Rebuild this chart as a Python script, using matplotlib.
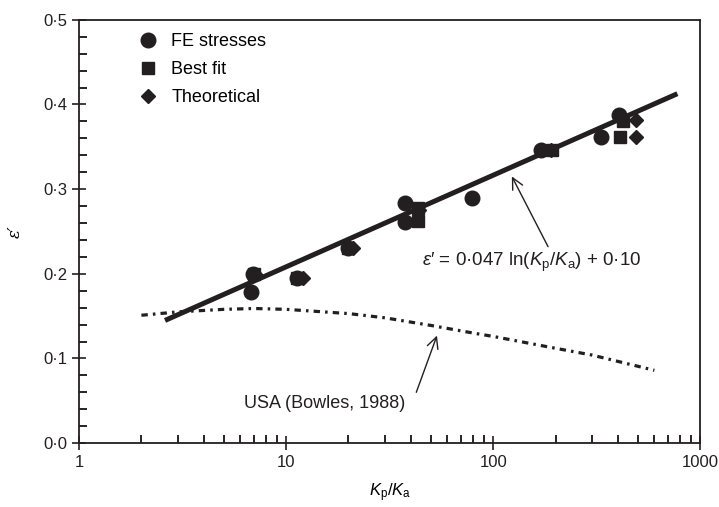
import matplotlib.pyplot as plt
from matplotlib.ticker import FuncFormatter, FixedLocator
import numpy as np

plt.rcParams['font.family'] = ['Liberation Sans', 'DejaVu Sans']
plt.rcParams['mathtext.fontset'] = 'custom'
plt.rcParams['mathtext.rm'] = 'Liberation Sans'
plt.rcParams['mathtext.it'] = 'Liberation Sans:italic'

# FE results, best fit and theoretical values of eps' against Kp/Ka
fe_x = [6.8, 6.9, 11.3, 20, 37.6, 37.6, 79, 170, 330, 405]
fe_y = [0.179, 0.200, 0.195, 0.230, 0.284, 0.261, 0.290, 0.346, 0.362, 0.387]
fit_x = [7.0, 11.3, 20, 43.5, 43.5, 192, 410, 425]
fit_y = [0.200, 0.195, 0.230, 0.278, 0.262, 0.346, 0.362, 0.380]
th_x = [7.1, 12, 21, 44, 190, 488, 488]
th_y = [0.200, 0.195, 0.230, 0.275, 0.346, 0.382, 0.362]

# Bowles (1988) curve
usa_x = [2, 3, 5, 7, 10, 20, 30, 50, 80, 100, 200, 300, 600]
usa_y = [0.151, 0.155, 0.158, 0.159, 0.158, 0.153, 0.148, 0.139, 0.130,
         0.126, 0.112, 0.104, 0.086]

# regression line eps' = 0.047 ln(Kp/Ka) + 0.10
a, b = 0.047, 0.10
line_x = np.logspace(np.log10(2.6), np.log10(775), 50)
line_y = a * np.log(line_x) + b

ink = '#231f20'

fig = plt.figure(figsize=(7.19, 5.07), dpi=100)
ax = fig.add_axes([0.110, 0.126, 0.864, 0.835])

ax.plot(line_x, line_y, color=ink, lw=3.6, solid_capstyle='butt', zorder=2)
ax.plot(usa_x, usa_y, color=ink, lw=2.3, dashes=[2.0, 1.6, 0.8, 1.6], zorder=2)

ax.plot(fe_x, fe_y, 'o', color=ink, ms=10.5, label='FE stresses', zorder=3)
ax.plot(fit_x, fit_y, 's', color=ink, ms=8.5, label='Best fit', zorder=3)
ax.plot(th_x, th_y, 'D', color=ink, ms=7, label='Theoretical', zorder=3)

ax.set_xscale('log')
ax.set_xlim(1, 1000)
ax.set_ylim(0, 0.5)

ax.xaxis.set_major_locator(FixedLocator([1, 10, 100, 1000]))
ax.xaxis.set_major_formatter(FuncFormatter(lambda v, p: '%g' % v))
ax.xaxis.set_minor_locator(FixedLocator([m * 10 ** k for k in range(3) for m in range(2, 10)]))
ax.xaxis.set_minor_formatter(FuncFormatter(lambda v, p: ''))
ax.set_yticks(np.arange(0, 0.51, 0.1))
ax.set_yticks(np.arange(0, 0.5, 0.02), minor=True)
ax.yaxis.set_major_formatter(FuncFormatter(lambda v, p: ('%.1f' % v).replace('.', '\u00b7')))

ax.tick_params(which='major', direction='inout', length=10, width=1.2, labelsize=12,
               colors=ink, top=False, right=False)
ax.tick_params(which='minor', direction='in', length=6, width=1.2, top=False, right=False)
for s in ax.spines.values():
    s.set_linewidth(1.3)
    s.set_color(ink)

ax.set_xlabel(r'$K_\mathrm{p}/K_\mathrm{a}$', fontsize=12, labelpad=8)
ax.set_ylabel('\u03b5\u2032', fontsize=12, family='DejaVu Serif', style='italic', labelpad=14)

ax.legend(loc='upper left', bbox_to_anchor=(0.07, 1.007), frameon=False, fontsize=13,
          handlelength=1.0, handletextpad=0.8, labelspacing=0.62, numpoints=1)

# equation label with arrow to the fitted line
ax.annotate('', xy=(123, 0.315), xytext=(184, 0.232),
            arrowprops=dict(arrowstyle='->', color=ink, lw=1.0, shrinkA=0, shrinkB=0,
                            mutation_scale=20))
ax.text(154, 0.213,
        '$\\varepsilon$\u2032 = 0\u00b7047 ln($K_\\mathrm{p}$/$K_\\mathrm{a}$) + 0\u00b710',
        ha='center', va='center', fontsize=13.5, color=ink)

# Bowles curve label
ax.annotate('', xy=(53.5, 0.127), xytext=(42.5, 0.060),
            arrowprops=dict(arrowstyle='->', color=ink, lw=1.0, shrinkA=0, shrinkB=0,
                            mutation_scale=20))
ax.text(15.4, 0.047, 'USA (Bowles, 1988)', ha='center', va='center', fontsize=13, color=ink)

fig.savefig('out.png', dpi=100)
